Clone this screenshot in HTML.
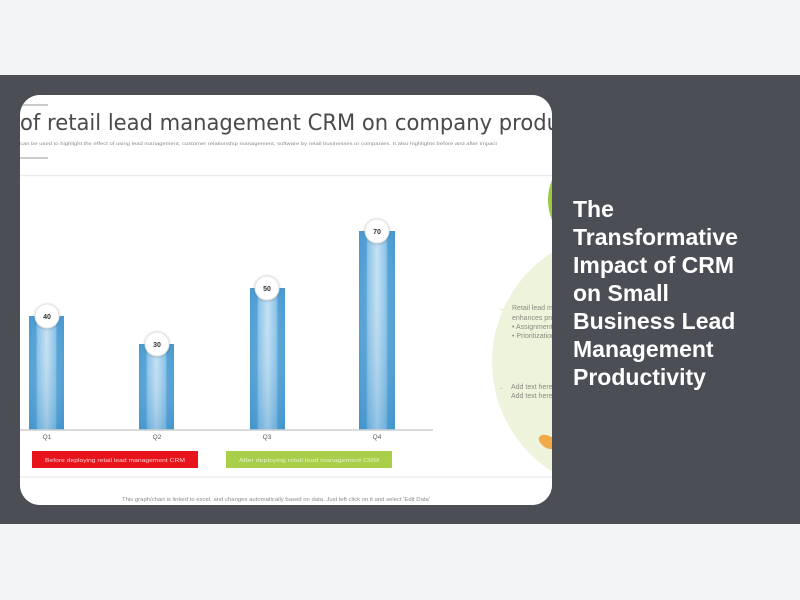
<!DOCTYPE html>
<html>
<head>
<meta charset="utf-8">
<style>
  html,body{margin:0;padding:0;}
  body{width:800px;height:600px;background:#f3f4f6;position:relative;overflow:hidden;font-family:"Liberation Sans",sans-serif;}
  .band{position:absolute;left:0;top:75px;width:800px;height:449px;background:#4b4f55;}
  .pic{position:absolute;left:20px;top:95px;width:532px;height:410px;border-radius:20px;overflow:hidden;background:#fff;}
  .heading{position:absolute;left:573px;top:195px;color:#fff;font-weight:bold;font-size:23px;line-height:28px;font-family:"Liberation Sans",sans-serif;white-space:nowrap;}
</style>
</head>
<body>
<div class="band"></div>
<div class="pic">
<svg width="532" height="410" viewBox="20 95 532 410" xmlns="http://www.w3.org/2000/svg">
  <defs>
    <linearGradient id="bar" x1="0" y1="0" x2="1" y2="0">
      <stop offset="0" stop-color="#4798cf"/>
      <stop offset="0.2" stop-color="#4d9fd6"/>
      <stop offset="0.24" stop-color="#86c0e6"/>
      <stop offset="0.5" stop-color="#c4e1f3"/>
      <stop offset="0.76" stop-color="#86c0e6"/>
      <stop offset="0.8" stop-color="#4d9fd6"/>
      <stop offset="1" stop-color="#4798cf"/>
    </linearGradient>
    <linearGradient id="shade" x1="0" y1="0" x2="0" y2="1">
      <stop offset="0" stop-color="#ffffff" stop-opacity="0"/>
      <stop offset="1" stop-color="#3b8cc6" stop-opacity="0.35"/>
    </linearGradient>
    <filter id="sh" x="-50%" y="-50%" width="200%" height="200%">
      <feDropShadow dx="0" dy="0.5" stdDeviation="1.2" flood-color="#000" flood-opacity="0.25"/>
    </filter>
  </defs>
  <rect x="20" y="95" width="532" height="410" fill="#ffffff"/>
  <!-- header -->
  <line x1="20" y1="105" x2="48" y2="105" stroke="#9a9a9a" stroke-width="1"/>
  <text x="20" y="130" font-family="DejaVu Sans, Liberation Sans, sans-serif" font-size="22" fill="#4a4a4a" textLength="540" lengthAdjust="spacingAndGlyphs">of retail lead management CRM on company produ</text>
  <text x="20" y="145" font-family="Liberation Sans, sans-serif" font-size="4.5" fill="#8a8a8a" textLength="477" lengthAdjust="spacingAndGlyphs">can be used to highlight the effect of using lead management, customer relationship management, software by retail businesses or companies. It also highlights before and after impact</text>
  <line x1="20" y1="158" x2="48" y2="158" stroke="#9a9a9a" stroke-width="1"/>
  <line x1="20" y1="175.5" x2="552" y2="175.5" stroke="#ececec" stroke-width="1.5"/>

  <!-- right decorative circles -->
  <circle cx="622" cy="362" r="130" fill="#eef4dc"/>
  <circle cx="600" cy="200" r="52" fill="#9cc93e"/>
  <ellipse cx="548" cy="442" rx="10" ry="6" fill="#f2a94a" transform="rotate(30 548 442)"/>
  <g font-family="Liberation Sans, sans-serif" font-size="7" fill="#8a8a80">
    <text x="499" y="310" fill="#b5c86a" font-size="6">&#8592;</text>
    <text x="512" y="310">Retail lead management</text>
    <text x="512" y="320">enhances productivity</text>
    <text x="512" y="329">•  Assignment</text>
    <text x="512" y="338">•  Prioritization</text>
    <text x="499" y="389" fill="#b5c86a" font-size="6">&#8592;</text>
    <text x="511" y="389">Add text here</text>
    <text x="511" y="398">Add text here</text>
  </g>

  <!-- bars -->
  <g>
    <rect x="29" y="316" width="35" height="114" fill="url(#bar)"/>
    <rect x="29" y="316" width="35" height="114" fill="url(#shade)"/>
    <rect x="139" y="344" width="35" height="86" fill="url(#bar)"/>
    <rect x="139" y="344" width="35" height="86" fill="url(#shade)"/>
    <rect x="250" y="288" width="35" height="142" fill="url(#bar)"/>
    <rect x="250" y="288" width="35" height="142" fill="url(#shade)"/>
    <rect x="359" y="231" width="36" height="199" fill="url(#bar)"/>
    <rect x="359" y="231" width="36" height="199" fill="url(#shade)"/>
  </g>
  <line x1="20" y1="430" x2="433" y2="430" stroke="#cfcfcf" stroke-width="1.5"/>

  <!-- value circles -->
  <g filter="url(#sh)">
    <circle cx="47" cy="316" r="12" fill="#fff" stroke="#e3e3e3" stroke-width="1"/>
    <circle cx="157" cy="344" r="12" fill="#fff" stroke="#e3e3e3" stroke-width="1"/>
    <circle cx="267" cy="288" r="12" fill="#fff" stroke="#e3e3e3" stroke-width="1"/>
    <circle cx="377" cy="231" r="12" fill="#fff" stroke="#e3e3e3" stroke-width="1"/>
  </g>
  <g font-family="Liberation Sans, sans-serif" font-size="7" font-weight="bold" fill="#333" text-anchor="middle">
    <text x="47" y="319">40</text>
    <text x="157" y="347">30</text>
    <text x="267" y="291">50</text>
    <text x="377" y="234">70</text>
  </g>

  <!-- category labels -->
  <g font-family="Liberation Sans, sans-serif" font-size="6.5" fill="#555" text-anchor="middle">
    <text x="47" y="439">Q1</text>
    <text x="157" y="439">Q2</text>
    <text x="267" y="439">Q3</text>
    <text x="377" y="439">Q4</text>
  </g>

  <!-- legend -->
  <rect x="32" y="451" width="166" height="17" fill="#e8141c"/>
  <text x="115" y="462" font-family="Liberation Sans, sans-serif" font-size="5.5" fill="#ffd0d0" text-anchor="middle" textLength="140" lengthAdjust="spacingAndGlyphs">Before deploying retail lead management CRM</text>
  <rect x="226" y="451" width="166" height="17" fill="#a9cf4a"/>
  <text x="309" y="462" font-family="Liberation Sans, sans-serif" font-size="5.5" fill="#e4f2c4" text-anchor="middle" textLength="140" lengthAdjust="spacingAndGlyphs">After deploying retail lead management CRM</text>

  <line x1="20" y1="477" x2="552" y2="477" stroke="#e6e6e6" stroke-width="1"/>
  <text x="122" y="501" font-family="Liberation Sans, sans-serif" font-size="5" fill="#8a8a8a" textLength="308" lengthAdjust="spacingAndGlyphs">This graph/chart is linked to excel, and changes automatically based on data. Just left click on it and select 'Edit Data'</text>
</svg>
</div>
<div class="heading">The<br>Transformative<br>Impact of CRM<br>on Small<br>Business Lead<br>Management<br>Productivity</div>
</body>
</html>
